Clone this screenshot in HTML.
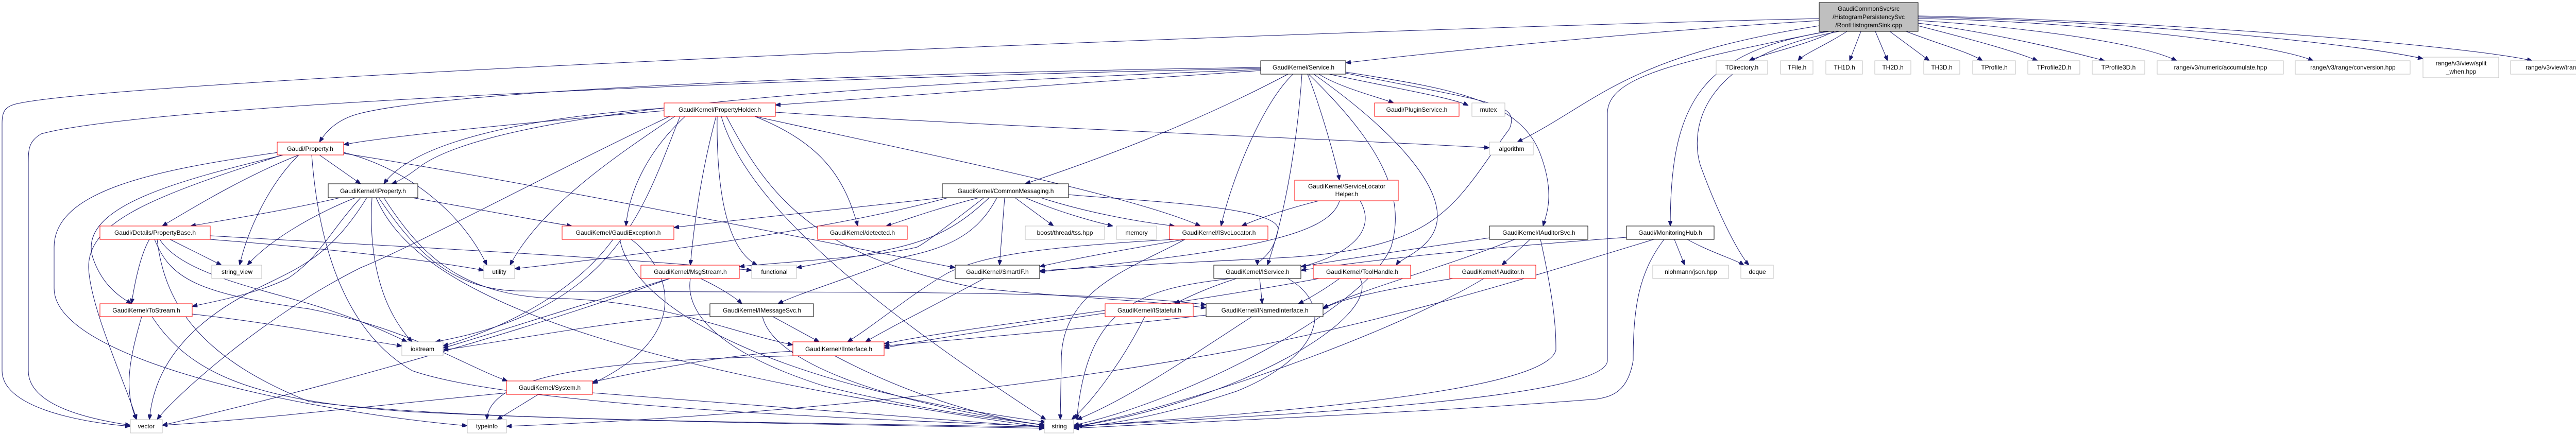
<!DOCTYPE html>
<html><head><meta charset="utf-8"><style>
html,body{margin:0;padding:0;background:#fff;overflow:hidden;width:5089px;height:843px;}
svg{display:block;}
text{font-family:"Liberation Sans",sans-serif;font-size:12px;fill:#000;}
.e{fill:none;stroke:#191970;stroke-width:1;}
.r{fill:#fff;stroke:#ff0000;}
.b{fill:#fff;stroke:#000;}
.g{fill:#fff;stroke:#bfbfbf;}
</style></head><body>
<svg width="5089" height="843" viewBox="0 0 5089 843" xmlns="http://www.w3.org/2000/svg">
<defs><marker id="a" markerWidth="10" markerHeight="8" refX="10" refY="4" orient="auto" markerUnits="userSpaceOnUse"><path d="M0,0 L10,4 L0,8 z" fill="#191970" stroke="#191970"/></marker></defs>
<g class="e" marker-end="url(#a)">
<path d="M3560,61 C3500,90 3420,105 3395,118"/>
<path d="M3585,61 C3540,90 3500,105 3490,118"/>
<path d="M3612,61 L3590,118"/>
<path d="M3640,61 L3664,118"/>
<path d="M3668,61 L3745,118"/>
<path d="M3700,61 C3760,85 3820,100 3848,118"/>
<path d="M3723,50 C3800,70 3900,95 3955,118"/>
<path d="M3723,45 C3850,60 4000,95 4085,118"/>
<path d="M3723,40 C3900,50 4150,80 4225,118"/>
<path d="M3723,36 C4000,40 4400,80 4490,118"/>
<path d="M3723,33 C4100,40 4550,80 4703,114"/>
<path d="M3723,31 C4200,40 4800,90 4915,118"/>
<path d="M3531,40 C3200,60 2800,100 2612,122"/>
<path d="M3531,50 C3150,110 3100,200 2945,276"/>
<path d="M3550,61 C3300,100 3242,200 3242,439"/>
<path d="M3570,61 C3300,110 3280,250 3300,320 C3340,430 3380,500 3395,515"/>
<path d="M3545,61 C3250,120 3120,150 3120,220 L3120,700 C3120,780 2400,810 2084,828"/>
<path d="M3531,36 C2500,60 300,150 40,200 C10,205 4,215 4,240 L4,720 C4,790 150,820 253,828"/>
<path d="M2447,137 C2100,160 1700,190 1505,204"/>
<path d="M2447,131 C1800,140 900,170 700,220 C650,232 630,260 620,276"/>
<path d="M2447,133 C1600,150 300,200 80,260 C55,275 55,290 55,320 L55,720 C55,790 180,815 253,826"/>
<path d="M2500,144 C2300,250 2100,320 1990,357"/>
<path d="M2510,144 C2450,200 2390,350 2370,439"/>
<path d="M2527,144 C2520,250 2500,400 2460,515"/>
<path d="M2538,144 C2560,200 2590,300 2600,350"/>
<path d="M2560,144 C2600,170 2680,190 2705,200"/>
<path d="M2580,144 C2700,170 2820,190 2850,205"/>
<path d="M2612,140 C2800,170 2950,190 2990,300 C3020,380 3000,420 2995,439"/>
<path d="M2550,144 C2700,250 2790,350 2790,420 C2790,480 2720,500 2710,515"/>
<path d="M2612,142 C2900,200 2950,200 2930,250 C2820,400 2800,480 2500,500 C2300,510 2100,520 2018,526"/>
<path d="M2540,144 C2680,280 2730,380 2700,480 C2650,600 2300,780 2084,826"/>
<path d="M2447,135 C1800,160 1000,200 820,320 C800,335 780,350 760,357"/>
<path d="M1289,215 C1000,240 750,265 667,281"/>
<path d="M1289,210 C1000,230 800,280 745,357"/>
<path d="M1300,226 C1100,320 800,480 700,520 C500,620 330,780 305,815"/>
<path d="M1310,226 C1200,300 1050,400 990,515"/>
<path d="M1320,226 C1250,400 1200,600 845,664"/>
<path d="M1465,226 C1600,280 1640,350 1665,439"/>
<path d="M1465,226 C1800,300 2200,380 2330,439"/>
<path d="M1390,226 C1370,300 1350,400 1340,515"/>
<path d="M1392,226 C1390,400 1420,490 1470,515"/>
<path d="M1400,226 C1450,400 1700,600 2030,815"/>
<path d="M1505,218 C2000,250 2600,270 2891,287"/>
<path d="M1410,226 C1500,400 1600,500 1900,560 C2100,580 2250,585 2341,598"/>
<path d="M1330,226 C1250,300 1220,380 1215,439"/>
<path d="M620,301 L700,357"/>
<path d="M580,301 C480,340 380,400 315,439"/>
<path d="M580,301 C520,360 480,450 465,515"/>
<path d="M667,296 C800,330 900,420 945,515"/>
<path d="M550,301 C350,350 150,400 180,500 C200,560 240,580 255,590"/>
<path d="M540,296 C300,330 105,370 105,480 L105,560 C105,700 600,800 907,827"/>
<path d="M548,301 C300,380 170,430 172,520 C175,600 250,760 265,815"/>
<path d="M605,301 C620,500 680,650 800,720 C1000,790 1700,815 2027,828"/>
<path d="M667,298 C1000,350 1500,450 1854,520"/>
<path d="M660,384 C550,410 420,430 370,439"/>
<path d="M800,384 C950,410 1050,430 1110,439"/>
<path d="M690,384 C600,420 520,470 480,515"/>
<path d="M700,384 C640,450 620,500 560,540 C500,570 420,585 373,595"/>
<path d="M712,384 C640,500 580,520 500,560 C380,620 300,700 290,815"/>
<path d="M722,384 C715,500 740,600 800,664"/>
<path d="M730,384 C800,550 1100,700 2027,830"/>
<path d="M735,384 C800,480 870,560 1000,565 C1500,570 2100,560 2341,592"/>
<path d="M745,384 C820,500 900,580 1100,580 C1300,590 1400,640 1539,670"/>
<path d="M330,465 L430,515"/>
<path d="M408,465 C600,480 800,500 939,525"/>
<path d="M290,465 C270,500 260,560 255,590"/>
<path d="M310,465 C350,530 500,560 600,590 C700,620 760,650 790,664"/>
<path d="M305,465 C320,600 400,700 600,780 C900,820 1600,820 2027,830"/>
<path d="M300,465 C330,540 380,570 600,600 C800,640 900,710 985,740"/>
<path d="M408,458 C800,480 1200,500 1459,525"/>
<path d="M275,615 C250,700 240,760 265,815"/>
<path d="M373,610 C550,630 700,660 780,672"/>
<path d="M295,615 C370,730 500,780 800,800 C1200,820 1700,825 2027,832"/>
<path d="M1190,465 C1120,560 1000,630 860,672"/>
<path d="M1203,465 C1230,600 1500,750 2030,820"/>
<path d="M1225,465 C1300,520 1350,650 1150,745"/>
<path d="M1360,541 C1400,560 1430,580 1440,590"/>
<path d="M1300,541 C1100,600 950,650 860,676"/>
<path d="M1340,541 C1330,600 1380,680 1600,750 C1800,800 1950,815 2030,826"/>
<path d="M1300,541 C1000,650 600,760 315,826"/>
<path d="M1500,615 L1590,664"/>
<path d="M1480,615 C1500,700 1700,780 2030,826"/>
<path d="M1378,610 C1200,620 1000,660 860,680"/>
<path d="M1829,384 C1600,410 1400,430 1308,442"/>
<path d="M1900,384 C1800,410 1750,430 1720,439"/>
<path d="M1970,384 L2045,439"/>
<path d="M1990,384 C2050,410 2120,430 2160,439"/>
<path d="M2020,384 C2100,410 2200,430 2280,439"/>
<path d="M1950,384 L1940,515"/>
<path d="M1910,384 C1850,430 1800,470 1780,480 C1700,500 1500,510 1435,518"/>
<path d="M1920,384 C1850,450 1800,470 1700,490 C1650,500 1600,510 1546,520"/>
<path d="M1935,384 C1900,450 1850,480 1750,500 C1650,540 1550,570 1510,590"/>
<path d="M2074,378 C2200,390 2500,400 2480,450 C2470,500 2440,505 2441,515"/>
<path d="M1840,384 C1600,450 1200,500 999,522"/>
<path d="M2300,465 C2150,490 2050,510 2018,518"/>
<path d="M2280,465 C2000,480 1900,500 1840,530 C1770,570 1700,630 1645,664"/>
<path d="M2300,465 C2200,520 2060,560 2060,700 L2058,815"/>
<path d="M1910,541 C1800,600 1720,640 1680,664"/>
<path d="M2400,541 C2340,560 2300,580 2280,590"/>
<path d="M2445,541 L2450,590"/>
<path d="M2500,541 C2600,600 2550,700 2400,760 C2250,810 2150,825 2084,830"/>
<path d="M2145,603 C1950,630 1800,650 1716,668"/>
<path d="M2222,615 C2180,700 2120,780 2080,815"/>
<path d="M2341,612 C2100,640 1850,660 1716,672"/>
<path d="M2430,615 C2300,700 2180,780 2090,815"/>
<path d="M1539,682 C1400,690 1250,720 1150,742"/>
<path d="M1545,691 C1200,700 950,720 945,815"/>
<path d="M1620,691 C1750,760 1900,810 2027,826"/>
<path d="M985,763 C700,790 500,815 315,826"/>
<path d="M1045,766 L965,815"/>
<path d="M1150,763 C1500,790 1800,815 2027,830"/>
<path d="M2560,390 C2480,410 2430,430 2410,439"/>
<path d="M2600,390 C2580,460 2400,490 2018,528"/>
<path d="M2640,390 C2680,460 2600,520 2400,540 C2200,560 2110,600 2090,815"/>
<path d="M2600,541 C2560,570 2530,585 2520,590"/>
<path d="M2560,541 C2300,590 1900,640 1716,676"/>
<path d="M2640,541 C2680,620 2400,780 2090,828"/>
<path d="M2970,465 L2915,515"/>
<path d="M2891,462 C2700,490 2600,505 2525,518"/>
<path d="M2990,465 C3020,600 3020,650 3020,680 C3000,760 2500,800 2090,828"/>
<path d="M2940,465 C2800,520 2650,560 2568,598"/>
<path d="M2820,541 C2700,560 2600,580 2568,600"/>
<path d="M2880,541 C2700,650 2300,790 2090,828"/>
<path d="M3250,465 L3270,515"/>
<path d="M3275,465 C3320,490 3370,505 3385,515"/>
<path d="M3157,461 C2900,480 2700,500 2525,525"/>
<path d="M3230,465 C3180,530 3170,600 3170,700 C3160,760 3130,770 3100,775 C2800,800 2300,820 2084,832"/>
<path d="M3210,465 C2900,560 2700,620 2400,680 C1800,790 1200,820 983,828"/>
</g>
<g text-anchor="middle">
<rect x="3531" y="5" width="192" height="56" fill="#bfbfbf" stroke="#000"/>
<text x="3627" y="21">GaudiCommonSvc/src</text>
<text x="3627" y="37">/HistogramPersistencySvc</text>
<text x="3627" y="53">/RootHistogramSink.cpp</text>

<rect class="b" x="2447" y="118" width="165" height="26"/><text x="2530" y="135">GaudiKernel/Service.h</text>
<rect class="r" x="1289" y="200" width="216" height="26"/><text x="1397" y="217">GaudiKernel/PropertyHolder.h</text>
<rect class="r" x="538" y="276" width="129" height="25"/><text x="602" y="293">Gaudi/Property.h</text>
<rect class="b" x="637" y="357" width="174" height="27"/><text x="724" y="375">GaudiKernel/IProperty.h</text>
<rect class="r" x="194" y="439" width="214" height="26"/><text x="301" y="456">Gaudi/Details/PropertyBase.h</text>
<rect class="r" x="1091" y="439" width="217" height="26"/><text x="1200" y="456">GaudiKernel/GaudiException.h</text>
<rect class="r" x="1587" y="439" width="174" height="26"/><text x="1674" y="456">GaudiKernel/detected.h</text>
<rect class="g" x="1990" y="439" width="154" height="26"/><text x="2067" y="456">boost/thread/tss.hpp</text>
<rect class="g" x="2167" y="439" width="78" height="26"/><text x="2206" y="456">memory</text>
<rect class="r" x="2270" y="439" width="191" height="26"/><text x="2366" y="456">GaudiKernel/ISvcLocator.h</text>
<rect class="b" x="2891" y="439" width="191" height="26"/><text x="2987" y="456">GaudiKernel/IAuditorSvc.h</text>
<rect class="b" x="3157" y="439" width="170" height="26"/><text x="3242" y="456">Gaudi/MonitoringHub.h</text>
<rect class="b" x="1829" y="357" width="245" height="27"/><text x="1952" y="375">GaudiKernel/CommonMessaging.h</text>
<rect class="r" x="2513" y="350" width="201" height="40"/><text x="2614" y="366">GaudiKernel/ServiceLocator</text><text x="2614" y="381">Helper.h</text>
<rect class="g" x="2891" y="276" width="85" height="25"/><text x="2934" y="293">algorithm</text>
<rect class="r" x="2668" y="200" width="164" height="26"/><text x="2750" y="217">Gaudi/PluginService.h</text>
<rect class="g" x="2857" y="200" width="64" height="26"/><text x="2889" y="217">mutex</text>
<rect class="g" x="411" y="515" width="97" height="26"/><text x="460" y="532">string_view</text>
<rect class="g" x="939" y="515" width="60" height="26"/><text x="969" y="532">utility</text>
<rect class="r" x="1244" y="515" width="191" height="26"/><text x="1340" y="532">GaudiKernel/MsgStream.h</text>
<rect class="g" x="1459" y="515" width="87" height="26"/><text x="1503" y="532">functional</text>
<rect class="b" x="1854" y="515" width="164" height="26"/><text x="1936" y="532">GaudiKernel/SmartIF.h</text>
<rect class="b" x="2356" y="515" width="169" height="26"/><text x="2441" y="532">GaudiKernel/IService.h</text>
<rect class="r" x="2549" y="515" width="189" height="26"/><text x="2644" y="532">GaudiKernel/ToolHandle.h</text>
<rect class="r" x="2814" y="515" width="167" height="26"/><text x="2898" y="532">GaudiKernel/IAuditor.h</text>
<rect class="g" x="3208" y="515" width="147" height="26"/><text x="3282" y="532">nlohmann/json.hpp</text>
<rect class="g" x="3379" y="515" width="63" height="26"/><text x="3411" y="532">deque</text>
<rect class="r" x="194" y="590" width="179" height="25"/><text x="284" y="607">GaudiKernel/ToStream.h</text>
<rect class="b" x="1378" y="590" width="201" height="25"/><text x="1479" y="607">GaudiKernel/IMessageSvc.h</text>
<rect class="r" x="2145" y="590" width="171" height="25"/><text x="2231" y="607">GaudiKernel/IStateful.h</text>
<rect class="b" x="2341" y="590" width="227" height="25"/><text x="2455" y="607">GaudiKernel/INamedInterface.h</text>
<rect class="g" x="780" y="664" width="80" height="27"/><text x="820" y="682">iostream</text>
<rect class="r" x="1539" y="664" width="177" height="27"/><text x="1628" y="682">GaudiKernel/IInterface.h</text>
<rect class="r" x="983" y="740" width="167" height="26"/><text x="1067" y="757">GaudiKernel/System.h</text>
<rect class="g" x="253" y="815" width="62" height="26"/><text x="284" y="832">vector</text>
<rect class="g" x="907" y="815" width="76" height="26"/><text x="945" y="832">typeinfo</text>
<rect class="g" x="2027" y="815" width="57" height="26"/><text x="2056" y="832">string</text>
<rect class="g" x="3331" y="118" width="100" height="26"/><text x="3381" y="135">TDirectory.h</text>
<rect class="g" x="3456" y="118" width="63" height="26"/><text x="3488" y="135">TFile.h</text>
<rect class="g" x="3544" y="118" width="71" height="26"/><text x="3580" y="135">TH1D.h</text>
<rect class="g" x="3639" y="118" width="70" height="26"/><text x="3674" y="135">TH2D.h</text>
<rect class="g" x="3734" y="118" width="70" height="26"/><text x="3769" y="135">TH3D.h</text>
<rect class="g" x="3829" y="118" width="83" height="26"/><text x="3871" y="135">TProfile.h</text>
<rect class="g" x="3936" y="118" width="101" height="26"/><text x="3987" y="135">TProfile2D.h</text>
<rect class="g" x="4061" y="118" width="102" height="26"/><text x="4112" y="135">TProfile3D.h</text>
<rect class="g" x="4187" y="118" width="245" height="26"/><text x="4310" y="135">range/v3/numeric/accumulate.hpp</text>
<rect class="g" x="4455" y="118" width="223" height="26"/><text x="4567" y="135">range/v3/range/conversion.hpp</text>
<rect class="g" x="4703" y="111" width="147" height="40"/><text x="4777" y="127">range/v3/view/split</text><text x="4777" y="143">_when.hpp</text>
<rect class="g" x="4873" y="118" width="210" height="26"/><text x="4978" y="135">range/v3/view/transform.hpp</text>
</g>
</svg>
</body></html>
